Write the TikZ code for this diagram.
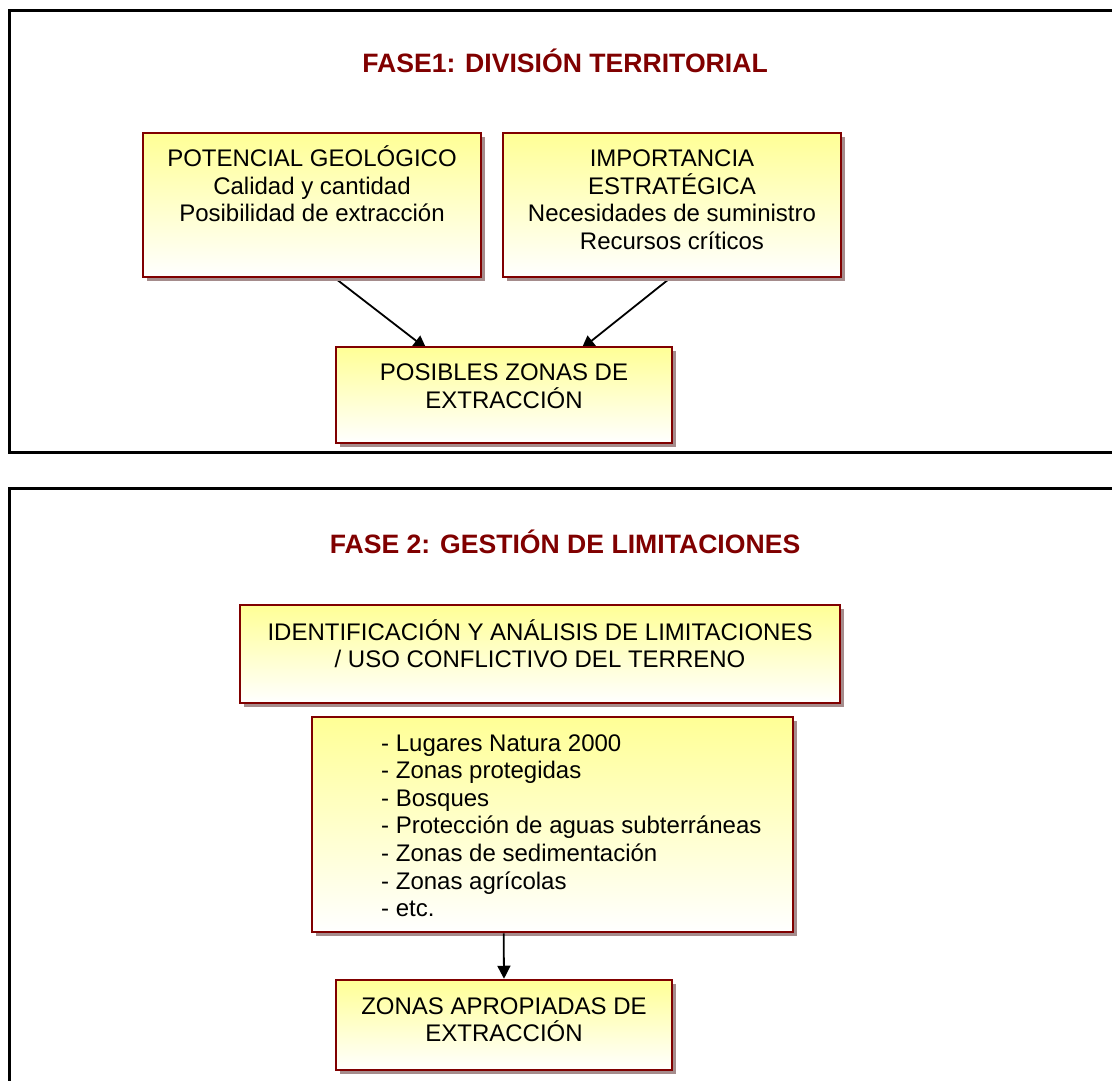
\documentclass[tikz,border=0pt]{standalone}
\usepackage{fontspec}
\setmainfont{Liberation Sans}
\usetikzlibrary{shadows,arrows.meta,calc,backgrounds}
\definecolor{boxRed}{RGB}{128,0,0}
\definecolor{paleYellow}{RGB}{255,255,150}
\definecolor{shadowGrey}{RGB}{165,140,140}
\definecolor{titleRed}{RGB}{128,0,0}
\newcommand\bodyfont{\fontsize{24}{27.6}\selectfont}
\newcommand\headfont{\fontsize{26.6}{30}\selectfont\bfseries}

\begin{document}
\begin{tikzpicture}[x=1pt,y=-1pt,
  panel/.style={line width=3pt, draw=black},
  box/.style={draw=boxRed, line width=2.5pt, top color=paleYellow, bottom color=white,
    drop shadow={shadow xshift=4pt, shadow yshift=-4pt, opacity=1, fill=shadowGrey},
    inner sep=0pt},
  % multi-line labels are placed by the baseline of their last line
  label/.style={font=\bodyfont, align=center, anchor=base, inner sep=0pt},
  listlabel/.style={font=\bodyfont, align=left, anchor=base west, inner sep=0pt},
  heading/.style={font=\headfont, text=titleRed, anchor=base, inner sep=0pt},
  link/.style={line width=1.8pt, -{Triangle[length=13pt,width=13pt]}}
]
\useasboundingbox (0,0) rectangle (1112,1081);

% outer panels
\draw[panel] (1130,11) -- (9,11) -- (9,452) -- (1130,452);
\draw[panel] (1130,488) -- (9,488) -- (9,1100);

% phase 1
\node[heading] (t1) at (565,73) {FASE1: DIVISIÓN TERRITORIAL};

\node[box, minimum width=338pt, minimum height=144pt] (A) at (312,205) {};
\node[label] (Atext) at (312,221.7) {POTENCIAL GEOLÓGICO\\Calidad y cantidad\\Posibilidad de extracción};

\node[box, minimum width=338pt, minimum height=144pt] (B) at (672,205) {};
\node[label] (Btext) at (672,249.3) {IMPORTANCIA\\ESTRATÉGICA\\Necesidades de suministro\\Recursos críticos};

\node[box, minimum width=336pt, minimum height=96pt] (C) at (504,395) {};
\node[label] (Ctext) at (504,408.1) {POSIBLES ZONAS DE\\EXTRACCIÓN};

% phase 2
\node[heading] (t2) at (565,553) {FASE 2: GESTIÓN DE LIMITACIONES};

\node[box, minimum width=600pt, minimum height=98pt] (D) at (540,654) {};
\node[label] (Dtext) at (540,667.6) {IDENTIFICACIÓN Y ANÁLISIS DE LIMITACIONES\\/ USO CONFLICTIVO DEL TERRENO};

\node[box, minimum width=481pt, minimum height=215pt] (E) at (552.5,824.5) {};
\node[listlabel] (Etext) at (381,916.6) {- Lugares Natura 2000\\- Zonas protegidas\\- Bosques\\- Protección de aguas subterráneas\\- Zonas de sedimentación\\- Zonas agrícolas\\- etc.};

\node[box, minimum width=336pt, minimum height=90pt] (F) at (504,1025) {};
\node[label] (Ftext) at (504,1041.6) {ZONAS APROPIADAS DE\\EXTRACCIÓN};

% connectors (tips of the upper ones tuck just under the target box)
\begin{scope}[on background layer]
\draw[link] ($(A.south west)!0.568!(A.south east)$) -- ($(C.north west)!0.259!(C.north east)+(4,3)$);
\draw[link] ($(B.south west)!0.494!(B.south east)$) -- ($(C.north west)!0.741!(C.north east)+(-4,3)$);
\end{scope}
\draw[link] ($(E.south west)!0.399!(E.south east)$) -- (F.north);
\end{tikzpicture}
\end{document}
